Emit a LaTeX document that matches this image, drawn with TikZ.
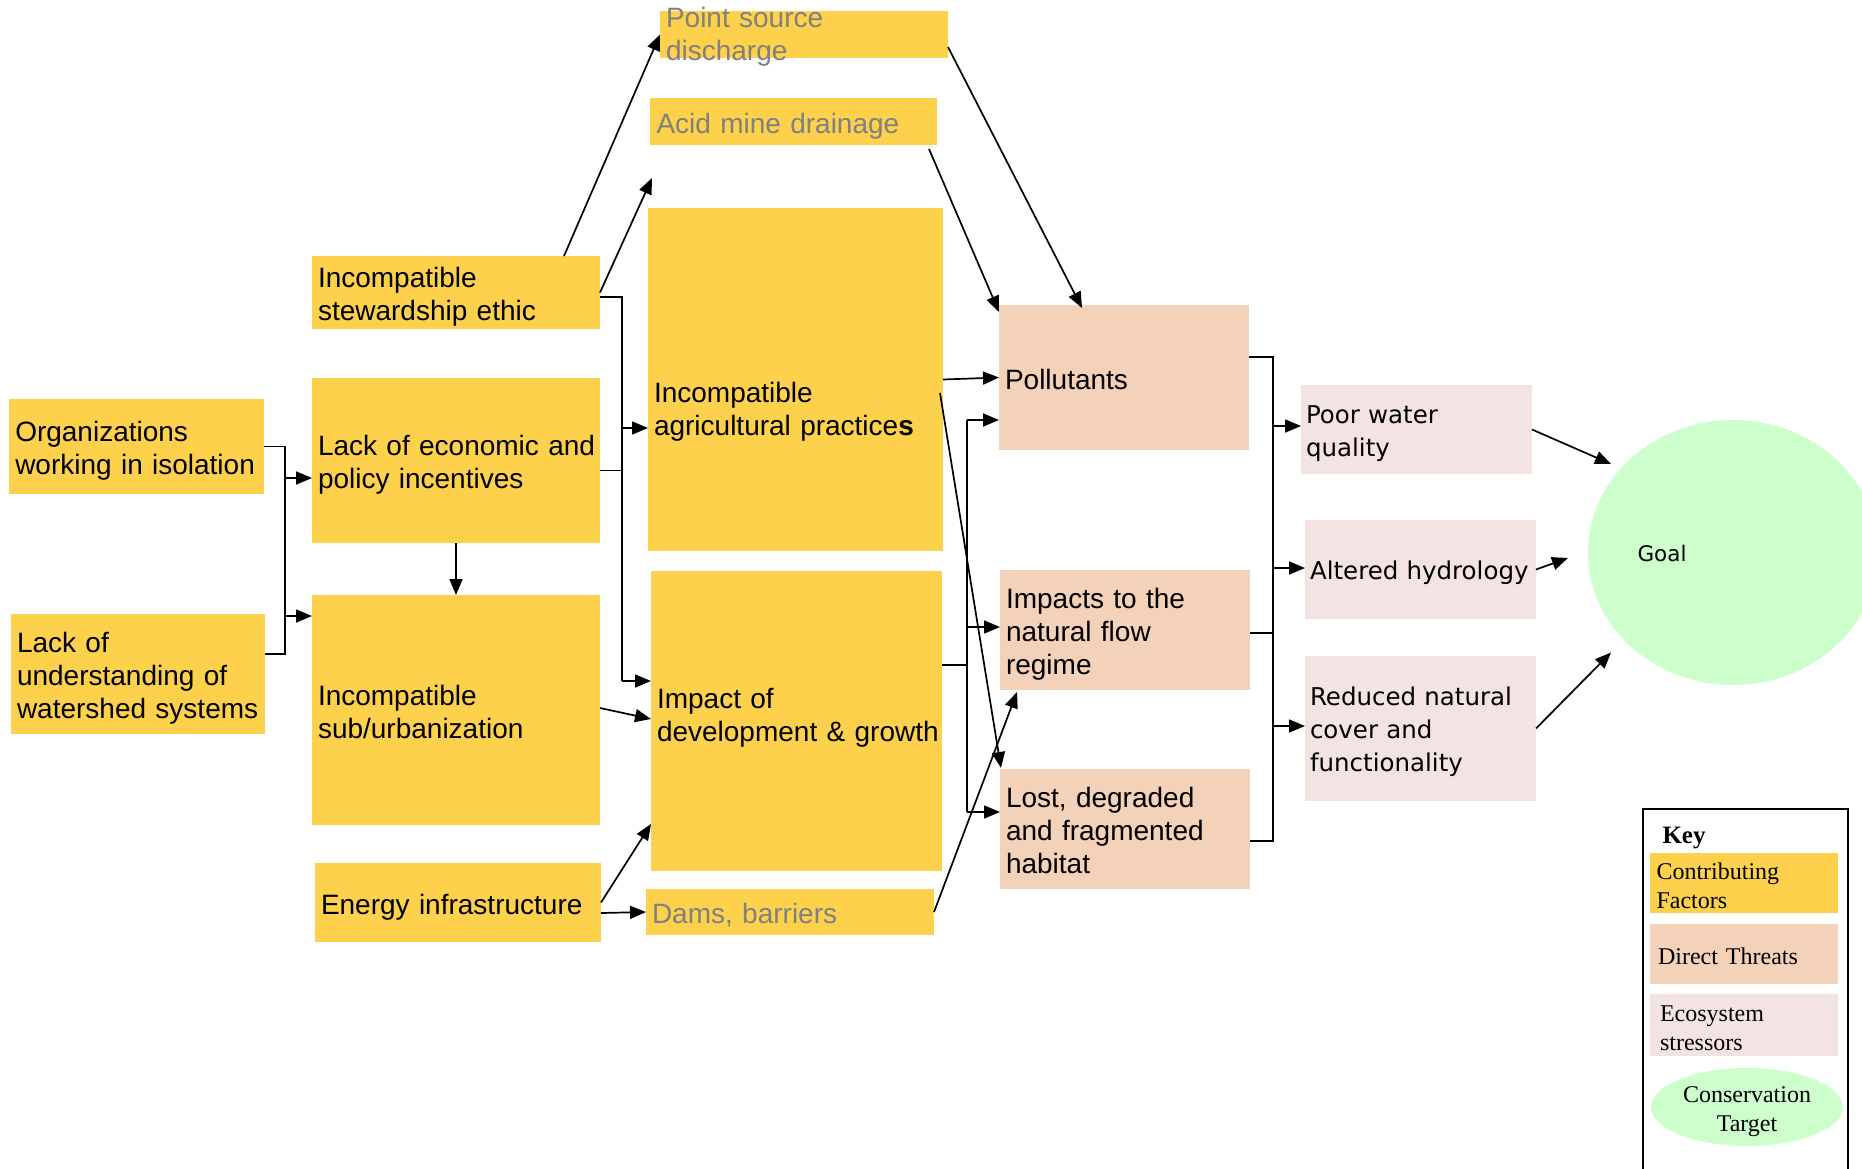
\documentclass[tikz,border=0pt]{standalone}
\usepackage{fontspec}
\setmainfont{Liberation Sans}
\newfontfamily\dvsans{DejaVu Sans}
\newfontfamily\tmsf{Liberation Serif}
\usetikzlibrary{arrows.meta,shapes.geometric}
\definecolor{cfcol}{HTML}{FDD14B}
\definecolor{dtcol}{HTML}{F4D1B9}
\definecolor{escol}{HTML}{F4E3E3}
\definecolor{tgcol}{HTML}{CCFFCC}
\definecolor{gtxt}{HTML}{808080}
\begin{document}
\begin{tikzpicture}[x=1pt,y=-1pt,
 box/.style={rectangle, inner xsep=6pt, inner ysep=0pt, align=left, outer sep=0pt},
 strA/.style={execute at begin node={\rule{0pt}{29.5pt}}, execute at end node={\rule[-6pt]{0pt}{6pt}}},
 strB/.style={execute at begin node={\rule{0pt}{27pt}}, execute at end node={\rule[-7pt]{0pt}{7pt}}},
 strC/.style={execute at begin node={\rule{0pt}{26pt}}, execute at end node={\rule[-5pt]{0pt}{5pt}}},
 cf/.style={box, strA, fill=cfcol, font=\fontsize{28}{33}\selectfont},
 cfg/.style={cf, text=gtxt},
 dt/.style={box, strA, fill=dtcol, font=\fontsize{28}{33}\selectfont},
 es/.style={box, strB, fill=escol, inner xsep=5pt, font=\dvsans\fontsize{24.5}{33}\selectfont},
 kbox/.style={box, strC, font=\tmsf\fontsize{24}{29}\selectfont},
 ln/.style={line width=1.7pt},
 arr/.style={line width=1.7pt, -{Triangle[length=16pt,width=13pt]}},
]
\useasboundingbox (0,0) rectangle (1862,1168);
\clip (0,0) rectangle (1862,1168);

% contributing factors
\node[cf, minimum width=255pt, minimum height=95pt, text width=243pt] (org) at (136.75,446.5) {Organizations\\\mbox{working in isolation}};
\node[cf, minimum width=254pt, minimum height=120pt, text width=242pt] (lou) at (138,674) {Lack of\\understanding of\\\mbox{watershed systems}};
\node[cf, minimum width=288pt, minimum height=73pt, text width=276pt] (stew) at (456,292.5) {Incompatible\\stewardship ethic};
\node[cf, minimum width=288pt, minimum height=165pt, text width=276pt] (econ) at (456,460.5) {\mbox{Lack of economic and}\\policy incentives};
\node[cf, minimum width=288pt, minimum height=230pt, text width=276pt] (urb) at (456,710) {Incompatible\\sub/urbanization};
\node[cf, minimum width=286pt, minimum height=79pt, text width=274pt] (energy) at (458,902.5) {Energy infrastructure};
\node[box, fill=cfcol, minimum width=288pt, minimum height=47pt] (psd) at (804,34.5) {};
\node[box, strA, text=gtxt, font=\fontsize{28}{33}\selectfont, text width=276pt] (psdtxt) at (804,32.5) {Point source\\discharge};
\node[cfg, minimum width=287pt, minimum height=47pt, text width=274pt, inner xsep=6.5pt] (amd) at (793.5,121.5) {Acid mine drainage};
\node[box, fill=cfcol, minimum width=295pt, minimum height=343pt] (agr) at (795.5,379.5) {};
\node[box, strA, font=\fontsize{28}{33}\selectfont, text width=283pt] (agrtxt) at (795.5,407) {Incompatible\\\mbox{agricultural practice\textbf{s}}};
\node[box, fill=cfcol, minimum width=291pt, minimum height=300pt] (dev) at (796.5,721) {};
\node[box, strA, font=\fontsize{28}{33}\selectfont, text width=279pt] (devtxt) at (796.5,713) {Impact of\\\mbox{development \& growth}};
\node[cfg, minimum width=288pt, minimum height=46pt, text width=276pt] (dams) at (790,912) {Dams, barriers};

% direct threats
\node[dt, minimum width=250pt, minimum height=145pt, text width=238pt] (poll) at (1124,377.5) {Pollutants};
\node[dt, minimum width=250pt, minimum height=120pt, text width=238pt] (flow) at (1125,630) {Impacts to the\\natural flow\\regime};
\node[dt, minimum width=250pt, minimum height=120pt, text width=238pt] (lost) at (1125,829) {Lost, degraded\\and fragmented\\habitat};

% ecosystem stressors
\node[es, minimum width=231pt, minimum height=89pt, text width=221pt] (pwq) at (1416.5,429.5) {Poor water\\quality};
\node[es, minimum width=231pt, minimum height=99pt, text width=221pt] (ah) at (1420.5,569.5) {\mbox{Altered hydrology}};
\node[es, minimum width=231pt, minimum height=145pt, text width=221pt] (rnc) at (1420.5,728.5) {\mbox{Reduced natural}\\cover and\\functionality};

% target
\node[ellipse, fill=tgcol, minimum width=290pt, minimum height=265pt, inner sep=0pt] (goal) at (1733,552.5) {};
\node[font=\dvsans\fontsize{21.5}{26}\selectfont, inner sep=0pt] (goaltxt) at (1662,553) {Goal};

% key
\node[draw, line width=2pt, rectangle, minimum width=205pt, minimum height=420pt, anchor=north west, inner sep=0pt] (keybox) at (1642,808) {};
\node[font=\tmsf\bfseries\fontsize{25}{30}\selectfont, inner sep=0pt] (keyttl) at (1684,837.5) {Key};
\node[kbox, fill=cfcol, minimum width=188pt, minimum height=58pt, inner xsep=6.5pt, text width=175pt] (kcf) at (1744,883) {Contributing\\Factors};
\node[kbox, fill=dtcol, minimum width=188pt, minimum height=60pt, inner xsep=8pt, text width=172pt] (kdt) at (1744,954) {Direct Threats};
\node[kbox, fill=escol, minimum width=188pt, minimum height=62pt, inner xsep=10pt, text width=168pt] (kes) at (1744,1025) {Ecosystem\\stressors};
\node[ellipse, fill=tgcol, minimum width=192pt, minimum height=78pt, inner sep=0pt] (kct) at (1747,1107) {};
\node[inner sep=0pt, align=center, font=\tmsf\fontsize{24}{29}\selectfont] (kcttxt) at (1747,1112) {Conservation\\Target};

% spines
\coordinate (spineL) at (285,0);
\coordinate (spineM) at (622,0);
\coordinate (spineD) at (967,0);
\coordinate (spineR) at (1273,0);

% org / lou bracket
\coordinate (lout) at ([yshift=20pt]lou.east);
\draw[ln] (org.east) -- (spineL |- org.east) -- (spineL |- lout) -- (lout);
\coordinate (econin) at ([yshift=-17.5pt]econ.west);
\coordinate (urbin) at ([yshift=94pt]urb.west);
\draw[arr] (spineL |- econin) -- (econin);
\draw[arr] (spineL |- urbin) -- (urbin);
\draw[arr] (econ.south) -- (urb.north);

% stew / econ bracket
\coordinate (stewout) at ([yshift=-4.5pt]stew.east);
\coordinate (econout) at ([yshift=-10pt]econ.east);
\coordinate (agrin) at ([yshift=-48.5pt]agr.west);
\coordinate (devin) at ([yshift=40pt]dev.west);
\draw[ln] (stewout) -- (spineM |- stewout) -- (spineM |- devin);
\draw[ln] (econout) -- (spineM |- econout);
\draw[arr] (spineM |- agrin) -- (agrin);
\draw[arr] (spineM |- devin) -- (devin);

% stew upward
\draw[arr] ([xshift=108pt]stew.north) -- (psd.west);
\coordinate (gaptip) at (652,178);
\draw[arr] (stew.east) -- (gaptip);

% urb, energy
\draw[arr] ([yshift=2pt]urb.east) -- ([yshift=2pt]dev.west);
\draw[arr] (energy.east) -- ([yshift=47pt]dev.south west);
\draw[arr] ([yshift=-10.5pt]energy.east) -- (dams.west);

% to pollutants / lost
\draw[arr] ([xshift=-8pt,yshift=-4pt]amd.south east) -- ([yshift=-7pt]poll.north west);
\draw[arr] ([yshift=-12.5pt]psd.east) -- ([xshift=-42pt,yshift=-3pt]poll.north);
\draw[arr] (agr.east) -- (poll.west);
\draw[arr] ([xshift=-3pt,yshift=-13.5pt]agr.east) -- ([xshift=1pt,yshift=1pt]lost.north west);

% dev bracket
\coordinate (devout) at ([yshift=56pt]dev.east);
\coordinate (pollin) at ([yshift=-42.5pt]poll.west);
\coordinate (flowin) at ([yshift=3pt]flow.west);
\coordinate (lostin) at ([yshift=17pt]lost.west);
\draw[ln] (devout) -- (spineD |- devout);
\draw[ln] (spineD |- pollin) -- (spineD |- lostin);
\draw[arr] (spineD |- pollin) -- (pollin);
\draw[arr] (spineD |- flowin) -- (flowin);
\draw[arr] (spineD |- lostin) -- (lostin);

% dams -> flow
\draw[arr] (dams.east) -- ([xshift=17pt,yshift=-2pt]flow.south west);

% threat bracket
\coordinate (pollout) at ([yshift=20.5pt]poll.east);
\coordinate (flowout) at ([yshift=-3pt]flow.east);
\coordinate (lostout) at ([yshift=-12pt]lost.east);
\draw[ln] (pollout) -- (spineR |- pollout) -- (spineR |- lostout) -- (lostout);
\draw[ln] (flowout) -- (spineR |- flowout);
\coordinate (pwqin) at ([yshift=3.5pt]pwq.west);
\coordinate (ahin) at ([yshift=1.5pt]ah.west);
\coordinate (rncin) at ([yshift=2.5pt]rnc.west);
\draw[arr] (spineR |- pwqin) -- (pwqin);
\draw[arr] (spineR |- ahin) -- (ahin);
\draw[arr] (spineR |- rncin) -- (rncin);

% to goal
\draw[arr] (pwq.east) -- ([xshift=-122pt,yshift=88.5pt]goal.center);
\coordinate (ahtip) at (1568,558);
\draw[arr] (ah.east) -- (ahtip);
\draw[arr] (rnc.east) -- ([xshift=-122pt,yshift=-100pt]goal.center);
\end{tikzpicture}
\end{document}
